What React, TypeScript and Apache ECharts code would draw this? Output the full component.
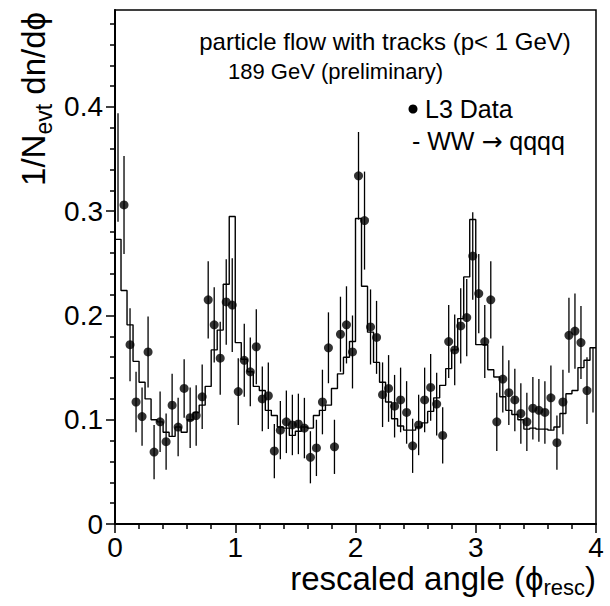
import React, { useEffect, useRef } from "react";
import * as echarts from "echarts";

// ---- data ----
const BIN_WIDTH = 0.05;
const X_MIN = 0;
const X_MAX = 4;
const Y_MAX = 0.493;

// L3 data points (bin contents, 80 bins of width 0.05)
const DATA = [
  0.342, 0.306, 0.172, 0.117, 0.103, 0.165, 0.069, 0.098, 0.079, 0.114,
  0.093, 0.130, 0.102, 0.104, 0.122, 0.215, 0.191, 0.159, 0.213, 0.210,
  0.127, 0.157, 0.146, 0.170, 0.120, 0.123, 0.070, 0.090, 0.098, 0.095,
  0.096, 0.092, 0.064, 0.073, 0.117, 0.169, 0.074, 0.182, 0.191, 0.165,
  0.334, 0.291, 0.189, 0.179, 0.124, 0.130, 0.113, 0.119, 0.107, 0.075,
  0.095, 0.119, 0.131, 0.115, 0.085, 0.175, 0.167, 0.190, 0.198, 0.257,
  0.221, 0.175, 0.215, 0.098, 0.139, 0.126, 0.119, 0.106, 0.098, 0.111,
  0.109, 0.107, 0.121, 0.078, 0.117, 0.181, 0.185, 0.174, 0.128, 0.138,
];

// statistical errors of the data points
const DATA_ERR = [
  0.052, 0.047, 0.035, 0.029, 0.028, 0.034, 0.026, 0.029, 0.027, 0.030,
  0.028, 0.028, 0.029, 0.029, 0.031, 0.037, 0.036, 0.035, 0.041, 0.045,
  0.032, 0.035, 0.033, 0.036, 0.031, 0.032, 0.026, 0.028, 0.030, 0.029,
  0.029, 0.029, 0.025, 0.027, 0.031, 0.034, 0.026, 0.036, 0.037, 0.035,
  0.042, 0.047, 0.036, 0.035, 0.031, 0.032, 0.030, 0.031, 0.030, 0.026,
  0.029, 0.031, 0.032, 0.030, 0.027, 0.035, 0.034, 0.036, 0.037, 0.042,
  0.038, 0.035, 0.037, 0.028, 0.032, 0.031, 0.030, 0.029, 0.028, 0.030,
  0.030, 0.030, 0.031, 0.026, 0.031, 0.036, 0.036, 0.035, 0.032, 0.031,
];

// bins whose marker is not drawn in the reference (only the error bar)
const HIDDEN_MARKERS = [0, 79];

// WW -> qqqq Monte Carlo histogram (bin contents)
const MC = [
  0.273, 0.224, 0.191, 0.156, 0.136, 0.120, 0.100, 0.098, 0.088, 0.084,
  0.093, 0.088, 0.100, 0.107, 0.114, 0.132, 0.167, 0.186, 0.230, 0.295,
  0.174, 0.158, 0.146, 0.132, 0.128, 0.109, 0.104, 0.093, 0.092, 0.085,
  0.089, 0.093, 0.092, 0.104, 0.109, 0.114, 0.130, 0.144, 0.160, 0.175,
  0.293, 0.228, 0.184, 0.155, 0.136, 0.117, 0.101, 0.094, 0.090, 0.090,
  0.093, 0.097, 0.108, 0.121, 0.133, 0.149, 0.167, 0.197, 0.237, 0.292,
  0.172, 0.172, 0.148, 0.141, 0.122, 0.109, 0.105, 0.100, 0.091, 0.092,
  0.091, 0.091, 0.090, 0.093, 0.106, 0.125, 0.128, 0.150, 0.157, 0.169,
];

const Y_MAJOR = [0, 0.1, 0.2, 0.3, 0.4];
const Y_MINOR = [
  0.02, 0.04, 0.06, 0.08, 0.12, 0.14, 0.16, 0.18, 0.22, 0.24, 0.26, 0.28,
  0.32, 0.34, 0.36, 0.38, 0.42, 0.44, 0.46, 0.48,
];

const TITLE_LINE1 = "particle flow with tracks (p< 1 GeV)";
const TITLE_LINE2 = "189 GeV (preliminary)";
const LEGEND_DATA = "L3 Data";
const LEGEND_MC = "- WW {a|\u2192} qqqq";
const Y_TITLE = "1/N{s|evt} dn/d\u03d5";
const X_TITLE = "rescaled angle (\u03d5{s|resc})";

const FONT = "'Liberation Sans', Arial, Helvetica, sans-serif";

export default function App() {
  const ref = useRef<HTMLDivElement>(null);

  useEffect(() => {
    if (!ref.current) return;
    const chart = echarts.init(ref.current, null, { renderer: "svg" });

    const centers = DATA.map((_, i) => X_MIN + (i + 0.5) * BIN_WIDTH);
    const mcLine: number[][] = MC.map((v, i) => [X_MIN + i * BIN_WIDTH, v]);
    mcLine.push([X_MIN + MC.length * BIN_WIDTH, MC[MC.length - 1]]);

    const errData = DATA.map((v, i) => [centers[i], v, DATA_ERR[i]]);
    const pointData = DATA.map((v, i) =>
      HIDDEN_MARKERS.includes(i)
        ? { value: [centers[i], v], itemStyle: { opacity: 0 } }
        : { value: [centers[i], v] }
    );

    const axisLine = { show: true, lineStyle: { color: "#000", width: 2 } };
    const tickStyle = { color: "#000", width: 1.5 };

    chart.setOption({
      animation: false,
      backgroundColor: "#fff",
      grid: {
        left: 115,
        right: 14,
        top: 10,
        bottom: 82,
        show: true,
        borderColor: "#000",
        borderWidth: 1.5,
        backgroundColor: "transparent",
      },
      xAxis: {
        type: "value",
        min: X_MIN,
        max: X_MAX,
        interval: 1,
        axisLine,
        axisTick: { show: true, length: 9, lineStyle: tickStyle },
        minorTick: { show: true, splitNumber: 5, length: 5, lineStyle: tickStyle },
        axisLabel: { color: "#000", fontSize: 28, lineHeight: 22, fontFamily: FONT, margin: 12 },
        splitLine: { show: false },
        minorSplitLine: { show: false },
      },
      yAxis: [
        {
          type: "value",
          position: "left",
          min: 0,
          max: Y_MAX,
          axisLine,
          axisTick: { show: true, length: 9, customValues: Y_MAJOR, lineStyle: tickStyle },
          axisLabel: {
            color: "#000",
            fontSize: 28,
            fontFamily: FONT,
            margin: 12,
            customValues: Y_MAJOR,
            formatter: (v: number) => String(v),
          },
          splitLine: { show: false },
        },
        {
          type: "value",
          position: "left",
          min: 0,
          max: Y_MAX,
          axisLine: { show: false },
          axisTick: { show: true, length: 5, customValues: Y_MINOR, lineStyle: tickStyle },
          axisLabel: { show: false },
          splitLine: { show: false },
        },
      ],
      series: [
        {
          name: "WW -> qqqq",
          type: "line",
          step: "end",
          data: mcLine,
          symbol: "none",
          lineStyle: { color: "#000", width: 1.4 },
          z: 2,
        },
        {
          name: "errors",
          type: "custom",
          data: errData,
          z: 3,
          renderItem: (_params: any, api: any) => {
            const x = api.value(0);
            const y = api.value(1);
            const e = api.value(2);
            const p1 = api.coord([x, y - e]);
            const p2 = api.coord([x, y + e]);
            return {
              type: "line",
              shape: { x1: p1[0], y1: p1[1], x2: p2[0], y2: p2[1] },
              style: { stroke: "#000", lineWidth: 1.3 },
            };
          },
        },
        {
          name: "L3 Data",
          type: "scatter",
          data: pointData,
          symbol: "circle",
          symbolSize: 9,
          itemStyle: { color: "#000" },
          z: 4,
        },
      ],
      graphic: [
        {
          type: "text",
          x: 385,
          y: 41,
          style: {
            text: TITLE_LINE1,
            fill: "#000",
            fontSize: 24,
            fontFamily: FONT,
            align: "center",
            verticalAlign: "middle",
          },
        },
        {
          type: "text",
          x: 228,
          y: 71,
          style: {
            text: TITLE_LINE2,
            fill: "#000",
            fontSize: 22,
            fontFamily: FONT,
            align: "left",
            verticalAlign: "middle",
          },
        },
        {
          type: "circle",
          shape: { cx: 413, cy: 109, r: 4.5 },
          style: { fill: "#000" },
        },
        {
          type: "text",
          x: 425,
          y: 109,
          style: {
            text: LEGEND_DATA,
            fill: "#000",
            fontSize: 25,
            fontFamily: FONT,
            align: "left",
            verticalAlign: "middle",
          },
        },
        {
          type: "text",
          x: 412,
          y: 141,
          style: {
            text: LEGEND_MC,
            fill: "#000",
            fontSize: 25,
            fontFamily: FONT,
            align: "left",
            verticalAlign: "middle",
            rich: {
              a: { fontSize: 25, fontFamily: "'DejaVu Sans', sans-serif", fill: "#000" },
            },
          },
        },
        {
          type: "text",
          x: 33,
          y: 12,
          rotation: Math.PI / 2,
          style: {
            text: Y_TITLE,
            fill: "#000",
            fontSize: 33,
            fontFamily: FONT,
            lineHeight: 44,
            align: "right",
            verticalAlign: "middle",
            rich: {
              s: { fontSize: 23, verticalAlign: "bottom", fontFamily: FONT, fill: "#000" },
            },
          },
        },
        {
          type: "text",
          x: 596,
          y: 578,
          style: {
            text: X_TITLE,
            fill: "#000",
            fontSize: 33,
            fontFamily: FONT,
            lineHeight: 40,
            align: "right",
            verticalAlign: "middle",
            rich: {
              s: { fontSize: 22, verticalAlign: "bottom", fontFamily: FONT, fill: "#000" },
            },
          },
        },
      ],
    });

    return () => chart.dispose();
  }, []);

  return (
    <div
      ref={ref}
      style={{ position: "fixed", left: 0, top: 0, width: 610, height: 606, background: "#fff" }}
    />
  );
}
